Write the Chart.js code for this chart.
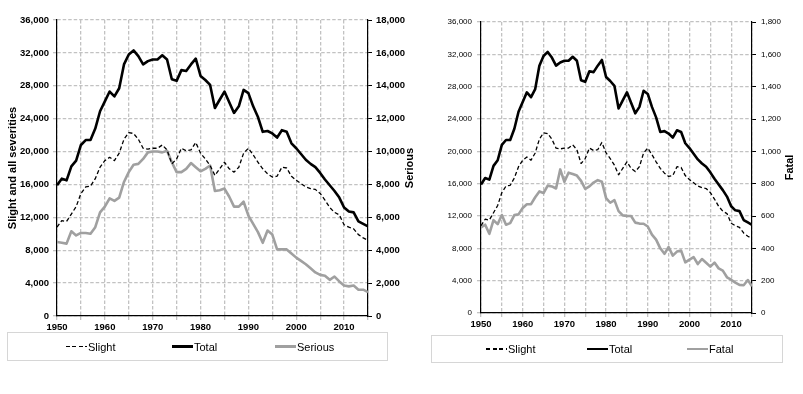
<!DOCTYPE html>
<html>
<head>
<meta charset="utf-8">
<script src="https://cdn.jsdelivr.net/npm/chart.js@4.4.1/dist/chart.umd.min.js"></script>
<style>
  body { margin: 0; background: #fff; width: 803px; height: 394px; overflow: hidden; position: relative;
         font-family: "Liberation Sans", Arial, sans-serif; }
  canvas { position: absolute; top: 0; }
  #leftChart { left: 0; }
  #rightChart { left: 420px; }
  .legendBox { position: absolute; border: 1px solid #d6d6d6; box-sizing: border-box; }
  .legendItem { position: absolute; top: 0; height: 100%; display: flex; align-items: center; font-size: 11px; color: #000; }
  .swatch { width: 21px; margin-right: 1px; }
</style>
</head>
<body>
<canvas id="leftChart" width="420" height="394"></canvas>
<canvas id="rightChart" width="383" height="394"></canvas>
<div class="legendBox" id="leftLegend" style="left:7px;top:332px;width:381px;height:29px"></div>
<div class="legendBox" id="rightLegend" style="left:431px;top:335px;width:352px;height:28px"></div>
<script>
const years = [
  1950, 1951, 1952, 1953, 1954, 1955, 1956, 1957, 1958, 1959,
  1960, 1961, 1962, 1963, 1964, 1965, 1966, 1967, 1968, 1969,
  1970, 1971, 1972, 1973, 1974, 1975, 1976, 1977, 1978, 1979,
  1980, 1981, 1982, 1983, 1984, 1985, 1986, 1987, 1988, 1989,
  1990, 1991, 1992, 1993, 1994, 1995, 1996, 1997, 1998, 1999,
  2000, 2001, 2002, 2003, 2004, 2005, 2006, 2007, 2008, 2009,
  2010, 2011, 2012, 2013, 2014, 2015
];

// left axis (0 - 36,000)
const slight = [
  10800, 11600, 11500, 12400, 13300, 14900, 15700, 15800, 16700, 18100,
  18900, 19300, 18900, 19800, 21500, 22300, 22200, 21500, 20400, 20300,
  20400, 20400, 20800, 20200, 18500, 19100, 20400, 20100, 20200, 21100,
  19800, 19100, 18300, 17100, 17900, 18700, 17900, 17500, 18100, 19800,
  20400, 19600, 18700, 17900, 17300, 16900, 17000, 18100, 18000, 17000,
  16500, 16100, 15700, 15500, 15400, 14900, 14100, 13200, 12600, 12300,
  11100, 10800, 10600, 9900, 9500, 9200
];
const total = [
  15900, 16700, 16500, 18200, 18900, 20800, 21400, 21400, 22800, 24900,
  26100, 27300, 26700, 27700, 30600, 31800, 32300, 31600, 30600, 31000,
  31200, 31200, 31700, 31200, 28800, 28600, 29900, 29800, 30600, 31300,
  29200, 28700, 28100, 25300, 26300, 27300, 26000, 24700, 25500, 27500,
  27100, 25500, 24200, 22400, 22500, 22200, 21700, 22600, 22400, 21000,
  20400, 19700, 19000, 18500, 18100, 17400, 16600, 15900, 15200, 14400,
  13200, 12700, 12600, 11500, 11200, 10900
];

// right axis of left panel (0 - 18,000)
const serious = [
  4500, 4450, 4400, 5150, 4900, 5050, 5050, 5000, 5400, 6300,
  6650, 7150, 7000, 7200, 8150, 8750, 9200, 9250, 9550, 9950,
  10000, 10000, 9950, 10050, 9350, 8750, 8750, 8950, 9300, 9050,
  8800, 8950, 9150, 7600, 7650, 7750, 7250, 6650, 6650, 6950,
  6100, 5600, 5100, 4450, 5200, 4950, 4050, 4050, 4050, 3800,
  3550, 3350, 3150, 2900, 2650, 2500, 2450, 2200, 2400, 2100,
  1850, 1800, 1850, 1600, 1600, 1450
];

// right axis of right panel (0 - 1,800)
const fatal = [
  530, 546, 490, 574, 550, 606, 546, 556, 606, 610,
  650, 673, 673, 716, 752, 742, 788, 783, 770, 888,
  812, 868, 860, 850, 817, 768, 783, 807, 822, 812,
  711, 682, 698, 630, 604, 601, 600, 559, 553, 552,
  535, 485, 454, 400, 366, 408, 355, 380, 386, 313,
  330, 346, 303, 334, 311, 287, 312, 276, 262, 221,
  206, 188, 174, 172, 204, 165
];

const FONT = '"Liberation Sans", Arial, sans-serif';
const GRID = '#c2c2c2';
const GREY = '#a0a0a0';

const pts = arr => years.map((y, i) => ({ x: y, y: arr[i] }));
const fmt = v => Number(v).toLocaleString('en-US');

// secondary axis title, rotated the same way as the primary one
const sideTitle = {
  id: 'sideTitle',
  afterDraw(chart, args, opts) {
    if (!opts.text) return;
    const { ctx, chartArea } = chart;
    ctx.save();
    ctx.font = 'bold 11px ' + FONT;
    ctx.fillStyle = '#000';
    ctx.textAlign = 'center';
    ctx.textBaseline = 'middle';
    ctx.translate(chartArea.right + opts.offset, (chartArea.top + chartArea.bottom) / 2);
    ctx.rotate(-Math.PI / 2);
    ctx.fillText(opts.text, 0, 0);
    ctx.restore();
  }
};

function makePanel(id, p) {
  return new Chart(document.getElementById(id), {
    type: 'line',
    data: {
      datasets: [
        { label: 'Slight', data: pts(slight), yAxisID: 'y', borderColor: '#000', borderWidth: 1.3, borderDash: [4, 2.5] },
        { label: 'Total', data: pts(total), yAxisID: 'y', borderColor: '#000', borderWidth: 2.6 },
        { label: p.thirdLabel, data: pts(p.third), yAxisID: 'y2', borderColor: GREY, borderWidth: 2.6 }
      ]
    },
    options: {
      responsive: false,
      devicePixelRatio: 1,
      animation: false,
      layout: { padding: { top: p.top, bottom: p.bottom, left: 0, right: 0 } },
      elements: { point: { radius: 0 }, line: { tension: 0, borderJoinStyle: 'round' } },
      plugins: {
        legend: { display: false },
        tooltip: { enabled: false },
        sideTitle: { text: p.sideTitle, offset: p.sideOffset }
      },
      scales: {
        x: {
          type: 'linear', min: 1950, max: 2015,
          afterFit: s => { s.height = 20; },
          ticks: {
            stepSize: 5, autoSkip: false, maxRotation: 0, padding: 2, color: '#000',
            font: { family: FONT, size: p.xFont, weight: 'bold' },
            callback: v => (v % 10 === 0 ? String(v) : '')
          },
          grid: { color: GRID, lineWidth: 1.3, tickLength: 4, tickColor: GRID },
          border: { color: '#000', width: 1.2, dash: [3.5, 2] }
        },
        y: {
          position: 'left', min: 0, max: 36000,
          afterFit: s => { s.width = p.leftWidth; },
          ticks: {
            stepSize: 4000, padding: p.tickPad, color: '#000', callback: fmt,
            font: { family: FONT, size: p.yFont, weight: p.yWeight }
          },
          grid: { color: GRID, lineWidth: 1.3, tickLength: 4, tickColor: GRID },
          border: { color: '#000', width: 1.2, dash: [3.5, 2] },
          title: {
            display: !!p.leftTitle, text: p.leftTitle, color: '#000', padding: { top: 6, bottom: 0 },
            font: { family: FONT, size: 11, weight: 'bold' }
          }
        },
        y2: {
          position: 'right', min: 0, max: p.rightMax,
          afterFit: s => { s.width = p.rightWidth; },
          ticks: {
            stepSize: p.rightMax / 9, padding: p.tickPad, color: '#000', callback: fmt,
            font: { family: FONT, size: p.yFont, weight: p.yWeight }
          },
          grid: { drawOnChartArea: false, tickLength: 4, tickColor: '#000' },
          border: { color: '#000', width: 1.2 }
        }
      }
    },
    plugins: [sideTitle]
  });
}

function buildLegend(chart, boxId, offsets) {
  const box = document.getElementById(boxId);
  chart.data.datasets.forEach((ds, i) => {
    const item = document.createElement('div');
    item.className = 'legendItem';
    item.style.left = offsets[i] + 'px';
    const sw = document.createElement('span');
    sw.className = 'swatch';
    sw.style.height = ds.borderWidth + 'px';
    if (ds.borderDash) {
      sw.style.background = 'repeating-linear-gradient(to right,' + ds.borderColor + ' 0 4px, transparent 4px 6.5px)';
    } else {
      sw.style.background = ds.borderColor;
    }
    const tx = document.createElement('span');
    tx.textContent = ds.label;
    item.appendChild(sw);
    item.appendChild(tx);
    box.appendChild(item);
  });
}

const leftChart = makePanel('leftChart', {
  third: serious, thirdLabel: 'Serious', rightMax: 18000,
  leftTitle: 'Slight and all severities', sideTitle: 'Serious', sideOffset: 42,
  top: 20, bottom: 58, leftWidth: 57, rightWidth: 52,
  xFont: 9.5, yFont: 9.5, yWeight: 'bold', tickPad: 4
});
const rightChart = makePanel('rightChart', {
  third: fatal, thirdLabel: 'Fatal', rightMax: 1800,
  leftTitle: '', sideTitle: 'Fatal', sideOffset: 38,
  top: 22, bottom: 61, leftWidth: 61, rightWidth: 51,
  xFont: 9.5, yFont: 8, yWeight: 'normal', tickPad: 5
});

buildLegend(leftChart, 'leftLegend', [58, 164, 267]);
buildLegend(rightChart, 'rightLegend', [54, 155, 255]);
</script>
</body>
</html>
